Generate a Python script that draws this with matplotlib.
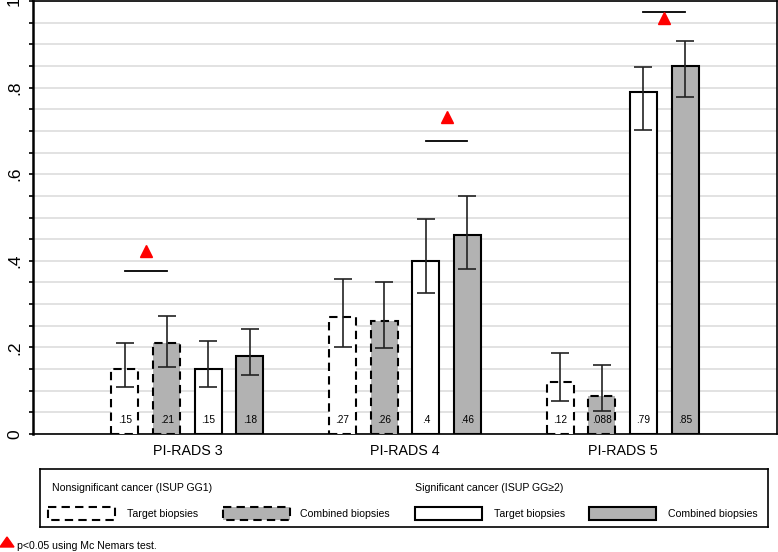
import numpy as np
import matplotlib
matplotlib.use('Agg')
import matplotlib.pyplot as plt
from matplotlib.patches import Rectangle, Polygon

plt.rcParams['font.family'] = ['Liberation Sans', 'DejaVu Sans']

## data
groups = ['PI-RADS 3', 'PI-RADS 4', 'PI-RADS 5']

target_ns = [0.15, 0.27, 0.12]
combined_ns = [0.21, 0.26, 0.088]
target_s = [0.15, 0.40, 0.79]
combined_s = [0.18, 0.46, 0.85]

target_ns_lo = [0.109, 0.201, 0.077]
target_ns_hi = [0.211, 0.357, 0.188]
combined_ns_lo = [0.155, 0.199, 0.054]
combined_ns_hi = [0.272, 0.351, 0.159]
target_s_lo = [0.109, 0.326, 0.703]
target_s_hi = [0.215, 0.496, 0.847]
combined_s_lo = [0.136, 0.381, 0.778]
combined_s_hi = [0.243, 0.550, 0.907]

## significance marks: group, pair of bars, line height, marker height
sig_group = [0, 1, 2]
sig_pair = [(0, 1), (2, 3), (2, 3)]
sig_line_y = [0.377, 0.676, 0.975]
sig_mark_y = [0.423, 0.733, 0.960]

GRAY = '#b2b2b2'
DASH = (0, (4, 2.5))


def stata_fmt(v):
    ## stata style labels: .15 instead of 0.15
    s = ('%g' % v)
    if s.startswith('0.'):
        s = s[1:]
    return s


fig = plt.figure(figsize=(7.78, 5.52), dpi=100)
ax = fig.add_axes([33/778, 1-434/552, 744/778, 433/552])

x = np.arange(len(groups))
step = 0.1915
width = 0.124
series = [
    (target_ns, target_ns_lo, target_ns_hi, 'white', DASH),
    (combined_ns, combined_ns_lo, combined_ns_hi, GRAY, DASH),
    (target_s, target_s_lo, target_s_hi, 'white', 'solid'),
    (combined_s, combined_s_lo, combined_s_hi, GRAY, 'solid'),
]
offsets = (np.arange(4) - 1.5) * step

for i, (vals, lo, hi, fc, ls) in enumerate(series):
    xs = x + offsets[i]
    ax.bar(xs, vals, width=width, color=fc, edgecolor='black',
           linewidth=1.5, linestyle=ls, zorder=3)
    vals = np.array(vals)
    err = [vals - np.array(lo), np.array(hi) - vals]
    ax.errorbar(xs, vals, yerr=err, fmt='none', ecolor='#222222',
                elinewidth=1.2, capsize=6.5, capthick=1.2, zorder=4)
    for xi, v in zip(xs, vals):
        ax.text(xi, 0.032, stata_fmt(v), ha='center', va='center',
                fontsize=7.3, zorder=5)

for g, (a, b), ly, my in zip(sig_group, sig_pair, sig_line_y, sig_mark_y):
    xa = x[g] + offsets[a]
    xb = x[g] + offsets[b]
    ax.plot([xa, xb], [ly, ly], color='black', lw=1.3, zorder=4)
    ax.plot([(xa + xb) / 2], [my], marker='^', color='red',
            markersize=8.7, linestyle='none', zorder=4)

ax.set_xlim(-0.71, 2.71)
ax.set_ylim(0, 1)
ax.set_xticks(x)
ax.set_xticklabels(groups, fontsize=10.3)
ax.tick_params(axis='x', length=0, pad=7)

ax.set_yticks(np.arange(0, 1.01, 0.2))
ax.set_yticklabels([stata_fmt(round(v, 1)) if v > 0 else '0'
                    for v in np.arange(0, 1.01, 0.2)],
                   rotation=90, va='center', fontsize=12.5)
ax.set_yticks(np.arange(0, 1.001, 0.05), minor=True)
ax.tick_params(axis='y', which='both', length=3, width=1.2, pad=5)
ax.grid(True, axis='y', which='both', color='#dadada', linewidth=1.1, zorder=0)
ax.set_axisbelow(True)

for side in ['top', 'right', 'bottom']:
    ax.spines[side].set_linewidth(1.2)
ax.spines['left'].set_linewidth(1.8)

## legend box drawn by hand
lax = fig.add_axes([40/778, 1-527/552, 728/778, 58/552])
lax.set_xlim(40, 768)
lax.set_ylim(527, 469)
lax.set_xticks([])
lax.set_yticks([])
for s in lax.spines.values():
    s.set_linewidth(1.2)

lax.text(52, 488, 'Nonsignificant cancer (ISUP GG1)', va='center', fontsize=7.6)
lax.text(415, 488, 'Significant cancer (ISUP GG\u22652)', va='center', fontsize=7.6)
leg_items = [
    (48, 'white', DASH, 127, 'Target biopsies'),
    (223, GRAY, DASH, 300, 'Combined biopsies'),
    (415, 'white', 'solid', 494, 'Target biopsies'),
    (589, GRAY, 'solid', 668, 'Combined biopsies'),
]
for px, fc, ls, tx, lab in leg_items:
    lax.add_patch(Rectangle((px, 507), 67, 13, facecolor=fc, edgecolor='black',
                            linewidth=1.5, linestyle=ls))
    lax.text(tx, 514, lab, va='center', fontsize=7.6)

## footnote
nax = fig.add_axes([0, 0, 1, 1])
nax.set_xlim(0, 778)
nax.set_ylim(552, 0)
nax.axis('off')
nax.add_patch(Polygon([[0, 547], [14, 547], [7, 537]], closed=True, color='red'))
nax.text(17, 546, 'p<0.05 using Mc Nemars test.', va='center', fontsize=7.6)

fig.savefig('out.png', dpi=100)
